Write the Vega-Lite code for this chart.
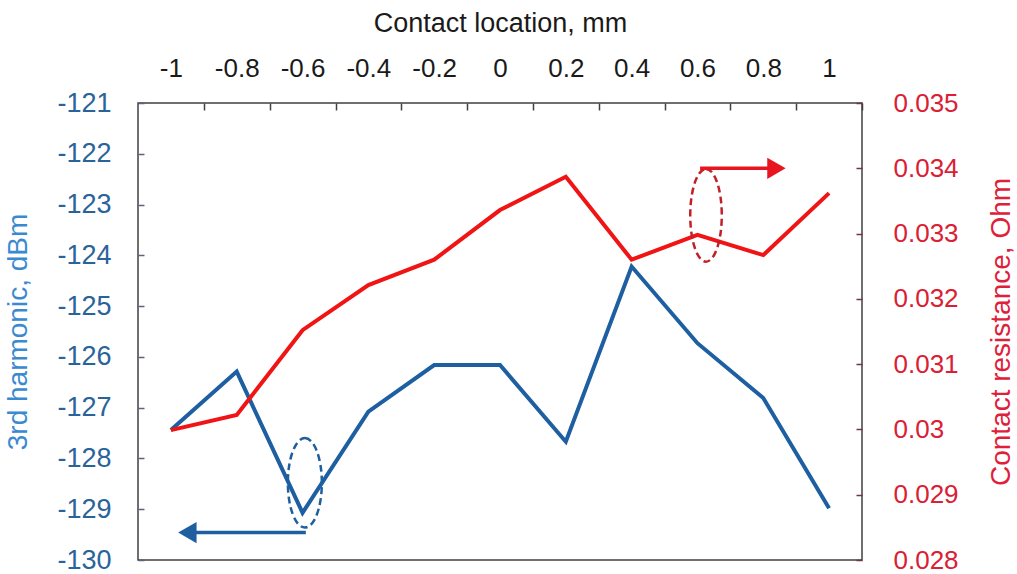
{
  "$schema": "https://vega.github.io/schema/vega-lite/v6.json",
  "width": 724,
  "height": 457,
  "autosize": {"type": "none"},
  "padding": {"left": 138, "top": 103, "right": 155, "bottom": 14},
  "background": "white",
  "config": {
    "font": "Liberation Sans",
    "view": {"stroke": "#404040", "strokeWidth": 1.5},
    "axis": {"grid": false, "domain": false, "labelFont": "Liberation Sans", "titleFont": "Liberation Sans", "titleFontWeight": "normal"}
  },
  "datasets": {
    "harm": [
      {"x": -1, "v": -127.44}, {"x": -0.8, "v": -126.29}, {"x": -0.6, "v": -129.07},
      {"x": -0.4, "v": -127.08}, {"x": -0.2, "v": -126.16}, {"x": 0, "v": -126.16},
      {"x": 0.2, "v": -127.67}, {"x": 0.4, "v": -124.22}, {"x": 0.6, "v": -125.73},
      {"x": 0.8, "v": -126.81}, {"x": 1, "v": -128.98}
    ],
    "res": [
      {"x": -1, "v": 0.02999}, {"x": -0.8, "v": 0.03022}, {"x": -0.6, "v": 0.03152},
      {"x": -0.4, "v": 0.03221}, {"x": -0.2, "v": 0.0326}, {"x": 0, "v": 0.03336},
      {"x": 0.2, "v": 0.03387}, {"x": 0.4, "v": 0.0326}, {"x": 0.6, "v": 0.03298},
      {"x": 0.8, "v": 0.03267}, {"x": 1, "v": 0.03362}
    ],
    "harmEll": [{"x": -0.593, "v": -128.48}],
    "harmArrow": [{"x": -0.59, "x2": -0.93, "v": -129.46}],
    "harmHead": [{"x": -0.95, "v": -129.46}],
    "resEll": [{"x": 0.626, "v": 0.03328}],
    "resArrow": [{"x": 0.608, "x2": 0.82, "v": 0.034}],
    "resHead": [{"x": 0.84, "v": 0.034}]
  },
  "encoding": {
    "x": {
      "field": "x", "type": "quantitative",
      "scale": {"domain": [-1.1, 1.1], "nice": false, "zero": false},
      "axis": {
        "orient": "top",
        "title": "Contact location, mm",
        "titleFontSize": 27, "titleColor": "#1a1a1a", "titlePadding": 18,
        "values": [-1, -0.8, -0.6, -0.4, -0.2, 0, 0.2, 0.4, 0.6, 0.8, 1],
        "labelExpr": "replace(format(datum.value, '.1~f'), '\u2212', '-')",
        "labelFontSize": 26, "labelColor": "#1a1a1a", "labelPadding": 29,
        "tickOffset": 33, "labelOffset": -33,
        "tickSize": -7, "tickColor": "#404040", "tickWidth": 1.5
      }
    }
  },
  "layer": [
    {
      "encoding": {
        "y": {
          "field": "v", "type": "quantitative",
          "scale": {"domain": [-130, -121], "nice": false, "zero": false},
          "axis": {
            "orient": "left",
            "title": "3rd harmonic, dBm",
            "titleFontSize": 28, "titleColor": "#3b8ad0", "titleX": -106, "titleBaseline": "bottom",
            "values": [-130, -129, -128, -127, -126, -125, -124, -123, -122, -121],
            "labelExpr": "replace(format(datum.value, 'd'), '\u2212', '-')",
            "labelFontSize": 27, "labelColor": "#2a639a", "labelPadding": 33,
            "tickSize": -6, "tickColor": "#556677", "tickWidth": 1.5
          }
        }
      },
      "layer": [
        {"data": {"name": "harm"}, "mark": {"type": "line", "color": "#1d5fa0", "strokeWidth": 4}},
        {"data": {"name": "harmEll"}, "mark": {"type": "point", "shape": "M0,-1A0.38,1,0,1,1,0,1A0.38,1,0,1,1,0,-1Z", "size": 8000, "filled": false, "stroke": "#1f5f9e", "strokeDash": [7, 4], "strokeWidth": 2.5, "opacity": 1}},
        {"data": {"name": "harmArrow"}, "mark": {"type": "rule", "color": "#1f5fa0", "strokeWidth": 3.5}, "encoding": {"x2": {"field": "x2"}}},
        {"data": {"name": "harmHead"}, "mark": {"type": "point", "shape": "triangle-left", "filled": true, "size": 450, "color": "#1f5fa0", "opacity": 1}}
      ]
    },
    {
      "encoding": {
        "y": {
          "field": "v", "type": "quantitative",
          "scale": {"domain": [0.028, 0.035], "nice": false, "zero": false},
          "axis": {
            "orient": "right",
            "title": "Contact resistance, Ohm",
            "titleFontSize": 28, "titleColor": "#e0203a", "titlePadding": 57, "titleAngle": -90,
            "values": [0.028, 0.029, 0.03, 0.031, 0.032, 0.033, 0.034, 0.035],
            "labelExpr": "format(datum.value, '.3~f')",
            "labelFontSize": 26, "labelColor": "#d92034", "labelPadding": 37,
            "tickSize": -6, "tickColor": "#7a3040", "tickWidth": 1.5
          }
        }
      },
      "layer": [
        {"data": {"name": "res"}, "mark": {"type": "line", "color": "#f01414", "strokeWidth": 4}},
        {"data": {"name": "resEll"}, "mark": {"type": "point", "shape": "M0,-1A0.34,1,0,1,1,0,1A0.34,1,0,1,1,0,-1Z", "size": 8600, "filled": false, "stroke": "#c0202a", "strokeDash": [7, 4], "strokeWidth": 2.5, "opacity": 1}},
        {"data": {"name": "resArrow"}, "mark": {"type": "rule", "color": "#e81420", "strokeWidth": 3.5}, "encoding": {"x2": {"field": "x2"}}},
        {"data": {"name": "resHead"}, "mark": {"type": "point", "shape": "triangle-right", "filled": true, "size": 450, "color": "#e81420", "opacity": 1}}
      ]
    }
  ],
  "resolve": {"scale": {"y": "independent"}}
}
